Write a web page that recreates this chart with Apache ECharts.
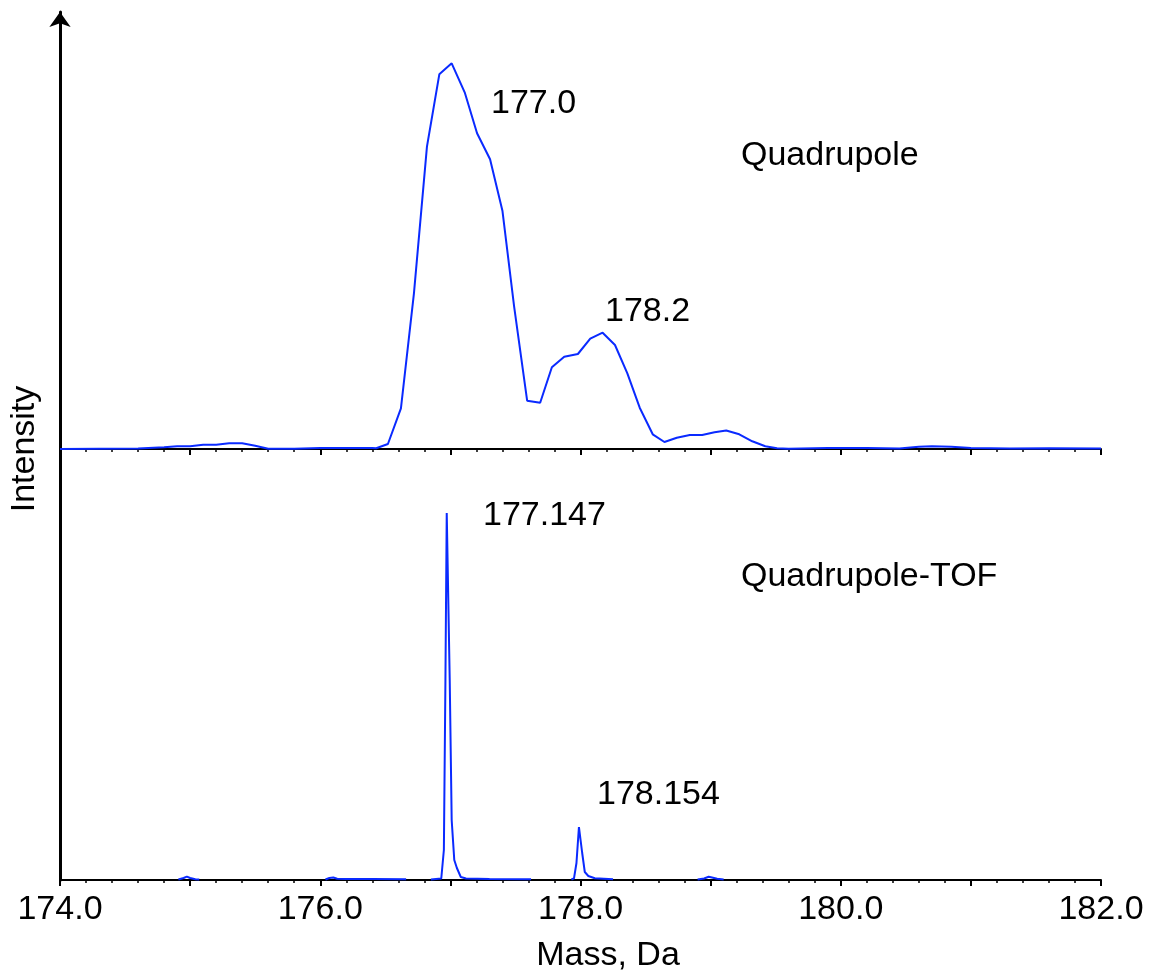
<!DOCTYPE html>
<html>
<head>
<meta charset="utf-8">
<script src="https://cdn.jsdelivr.net/npm/echarts@6/dist/echarts.min.js"></script>
<style>
html,body{margin:0;padding:0;background:#fff;}
#chart{width:1150px;height:974px;}
</style>
</head>
<body>
<div id="chart"></div>
<script>
// Quadrupole trace: [mass (Da), intensity (a.u.)]
const quadMass = [174.0,174.3,174.6,174.8,174.9,175.0,175.1,175.2,175.3,175.4,175.5,175.6,175.8,176.0,176.2,176.4,176.43,
  176.52,176.62,176.72,176.82,176.915,177.01,177.11,177.205,177.305,177.40,177.49,177.59,177.69,177.78,177.875,177.98,
  178.075,178.17,178.265,178.36,178.455,178.555,178.645,178.74,178.84,178.935,179.03,179.12,179.22,179.32,179.42,179.51,
  179.6,179.9,180.2,180.45,180.6,180.7,180.85,181.0,181.3,181.6,182.0];
const quadInt = [0,0.3,0.5,1.7,2.7,2.7,4.3,4.3,5.7,5.7,3.3,0.3,0.3,1,1,1,0.7,
  5,40.7,155.7,302.3,374.7,385.7,356.7,315.7,289.7,238.3,142.3,48.3,46.3,81.7,92.3,95,
  110.3,116.3,104,75.7,41.3,14.7,7,11.2,14,14,16.8,18.5,14.7,7.7,2.8,0.7,
  0.3,1,1,0.5,2.2,2.7,2.2,1,0.5,0.7,0.5];

// Quadrupole-TOF trace (null = no data recorded)
const tofMass = [174.91,174.95,174.975,175.0,175.04,175.07,null,
  176.04,176.07,176.1,176.13,176.2,176.4,176.66,null,
  176.85,176.93,176.95,176.962,176.972,176.985,176.995,177.01,177.03,177.05,177.08,177.12,177.3,177.62,null,
  177.93,177.95,177.969,177.988,177.998,178.013,178.033,178.06,178.11,178.25,null,
  178.9,178.95,178.985,179.01,179.05,179.1];
const tofInt = [0.5,2,3.4,2,0.8,0.5,null,
  0.5,2,2.5,1.2,1,1,0.8,null,
  0.5,1.5,30,200,367,367,200,60,20,12,3,1.5,1,0.8,null,
  0.5,1.7,17,53,52,27,8,4,1.7,0.8,null,
  0.5,1.5,3.3,2.5,1.2,0.5];

const xTicks = ['174.0','176.0','178.0','180.0','182.0'];
const annotations = [
  {text:'177.0', x:491, y:104},
  {text:'178.2', x:605, y:312},
  {text:'Quadrupole', x:741, y:156},
  {text:'177.147', x:483, y:516},
  {text:'178.154', x:597, y:795},
  {text:'Quadrupole-TOF', x:741, y:577}
];

const quadData = quadMass.map((m,i)=>[m, quadInt[i]]);
const tofData = tofMass.map((m,i)=> m===null ? [null,null] : [m, tofInt[i]]);

const FONT = '"Liberation Sans", Arial, sans-serif';
const BLUE = '#0a2aff';

function xAxisCfg(gridIndex, showLabels){
  return {
    type:'value', gridIndex, min:174, max:182, interval:1,
    axisLine:{show:true, onZero:false, lineStyle:{color:'#000', width:2}},
    axisTick:{show:true, inside:false, length:6, lineStyle:{color:'#000', width:2}},
    minorTick:{show:true, splitNumber:5, length:3, lineStyle:{color:'#000', width:1.5}},
    splitLine:{show:false}, minorSplitLine:{show:false},
    axisLabel:{show:showLabels, margin:13, fontSize:34, color:'#000', fontFamily:FONT,
      formatter:(v)=>{ const s=v.toFixed(1); return xTicks.includes(s)? s : ''; }}
  };
}

const chart = echarts.init(document.getElementById('chart'), null, {renderer:'canvas'});
chart.setOption({
  animation:false,
  backgroundColor:'#fff',
  grid:[
    {left:60, width:1041, top:49, height:400},
    {left:60, width:1041, top:480, height:400},
    {left:60, width:1041, top:12, height:868}
  ],
  xAxis:[
    xAxisCfg(0,false),
    xAxisCfg(1,true),
    {type:'value', gridIndex:2, min:0, max:1, show:false}
  ],
  yAxis:[
    {type:'value', gridIndex:0, min:0, max:400, show:false},
    {type:'value', gridIndex:1, min:0, max:400, show:false},
    {type:'value', gridIndex:2, min:0, max:1,
      axisLine:{show:true, symbol:['none','arrow'], symbolSize:[16,15],
        lineStyle:{color:'#000', width:3}},
      axisTick:{show:false}, axisLabel:{show:false}, splitLine:{show:false}}
  ],
  series:[
    {type:'line', xAxisIndex:0, yAxisIndex:0, data:quadData, showSymbol:false,
      lineStyle:{color:BLUE, width:2}, itemStyle:{color:BLUE}},
    {type:'line', xAxisIndex:1, yAxisIndex:1, data:tofData, showSymbol:false, connectNulls:false,
      lineStyle:{color:BLUE, width:2}, itemStyle:{color:BLUE}}
  ],
  graphic:[
    ...annotations.map(a=>({type:'text', x:a.x, y:a.y,
      style:{text:a.text, fill:'#000', font:'34px '+FONT, textAlign:'left', textVerticalAlign:'middle'}})),
    {type:'text', x:608, y:956,
      style:{text:'Mass, Da', fill:'#000', font:'34px '+FONT, textAlign:'center', textVerticalAlign:'middle'}},
    {type:'text', x:25, y:449, rotation:Math.PI/2,
      style:{text:'Intensity', fill:'#000', font:'34px '+FONT, textAlign:'center', textVerticalAlign:'middle'}}
  ]
});
</script>
</body>
</html>
